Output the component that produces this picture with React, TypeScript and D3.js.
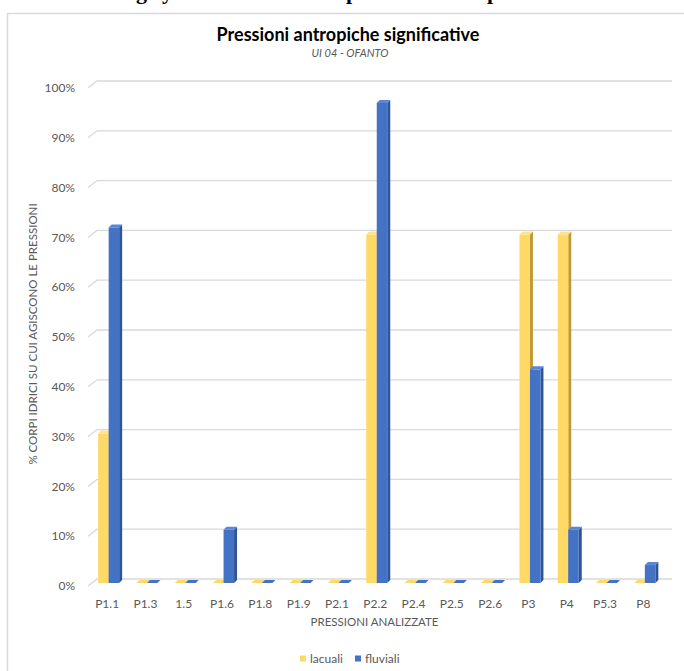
import React from "react";
import * as d3 from "d3";

const categories = ["P1.1","P1.3","1.5","P1.6","P1.8","P1.9","P2.1","P2.2","P2.4","P2.5","P2.6","P3","P4","P5.3","P8"];
const lacuali = [0.30,0,0,0,0,0,0,0.70,0,0,0,0.70,0.70,0,0];
const fluviali = [0.714,0,0,0.107,0,0,0,0.964,0,0,0,0.429,0.107,0,0.036];
const yTicks = [0,0.1,0.2,0.3,0.4,0.5,0.6,0.7,0.8,0.9,1];
const seriesNames = ["lacuali","fluviali"];
const title = "Pressioni antropiche significative";
const subtitle = "UI 04 - OFANTO";
const xTitle = "PRESSIONI ANALIZZATE";
const yTitle = "% CORPI IDRICI SU CUI AGISCONO LE PRESSIONI";

const W = 684, H = 671;
const FONT = "Lato, 'Open Sans', sans-serif";
const TXT = "#595959";

const colors = [
  { front: "#FFD966", side: "#BF9A35", top: "#FFE18F" },
  { front: "#4472C4", side: "#2F5597", top: "#5A86D4" },
];

export default function App() {
  const x = d3.scaleBand<string>().domain(categories).range([88, 662.5]).padding(0);
  const y = d3.scaleLinear().domain([0, 1]).range([583, 85]);
  const depth = 3;
  const backY = (v: number) => y(v) - 4;
  const fmt = d3.format(".0%");

  const bar = (x0: number, x1: number, v: number, c: typeof colors[0], key: string) => {
    const yt = y(v);
    const yb = y(0);
    const side = `M${x1},${yb} L${x1 + depth},${yb - depth} L${x1 + depth},${yt - depth} L${x1},${yt} Z`;
    const top = `M${x0},${yt} L${x1},${yt} L${x1 + depth},${yt - depth} L${x0 + depth},${yt - depth} Z`;
    return (
      <g key={key}>
        <path d={side} fill={c.side} />
        {v > 0 && <rect x={x0} y={yt} width={x1 - x0} height={yb - yt} fill={c.front} />}
        <path d={top} fill={v > 0 ? c.top : c.front} />
      </g>
    );
  };

  return (
    <svg width={W} height={H} style={{ position: "absolute", left: 0, top: 0, background: "#fff" }} fontFamily={FONT}>
      {/* cut-off document text above chart */}
      <g fontFamily="'Liberation Serif', serif" fontWeight="bold" fontSize={22} fill="#000">
        <text x={136} y={-1}>g</text>
        <text x={162} y={-1}>y</text>
        <text x={346} y={-1}>p</text>
        <text x={487} y={-1}>p</text>
      </g>
      {/* chart frame */}
      <line x1={7} y1={13.5} x2={W} y2={13.5} stroke="#d9d9d9" strokeWidth={1.5} />
      <line x1={7.5} y1={13} x2={7.5} y2={H} stroke="#d9d9d9" strokeWidth={1.5} />

      <text x={348} y={41} textAnchor="middle" fontSize={18} fontWeight="bold" fill="#000">{title}</text>
      <text x={350} y={57} textAnchor="middle" fontSize={11} fontStyle="italic" fill={TXT}>{subtitle}</text>

      {/* gridlines */}
      <g stroke="#d9d9d9" strokeWidth={1.3} fill="none">
        {yTicks.map((t) => (
          <path key={t} d={`M88,${backY(t) + 7} L97,${backY(t)} L672,${backY(t)}`} />
        ))}
      </g>
      {/* y tick labels */}
      <g fontSize={12} fill={TXT} textAnchor="end">
        {yTicks.map((t) => (
          <text key={t} x={75} y={backY(t) + 7} dy="0.35em">{fmt(t)}</text>
        ))}
      </g>

      {/* bars */}
      {categories.map((cat, i) => {
        const cx = (x(cat) as number) + x.bandwidth() / 2;
        return (
          <g key={cat}>
            {bar(cx - 9, cx + 1.5, lacuali[i], colors[0], "l")}
            {bar(cx + 1.5, cx + 12, fluviali[i], colors[1], "f")}
          </g>
        );
      })}

      {/* x tick labels */}
      <g fontSize={12} fill={TXT} textAnchor="middle">
        {categories.map((cat) => (
          <text key={cat} x={(x(cat) as number) + x.bandwidth() / 2} y={604} dy="0.35em">{cat}</text>
        ))}
      </g>

      <text x={374.5} y={622} dy="0.35em" textAnchor="middle" fontSize={11.5} fill={TXT}>{xTitle}</text>
      <text transform={`translate(33,334) rotate(-90)`} textAnchor="middle" dy="0.35em" fontSize={11.5} fill={TXT}>{yTitle}</text>

      {/* legend */}
      <g fontSize={12} fill={TXT}>
        <rect x={300} y={655.5} width={6} height={6} fill={colors[0].front} />
        <text x={310} y={659} dy="0.35em">{seriesNames[0]}</text>
        <rect x={355} y={655.5} width={6} height={6} fill={colors[1].front} />
        <text x={365} y={659} dy="0.35em">{seriesNames[1]}</text>
      </g>
    </svg>
  );
}
